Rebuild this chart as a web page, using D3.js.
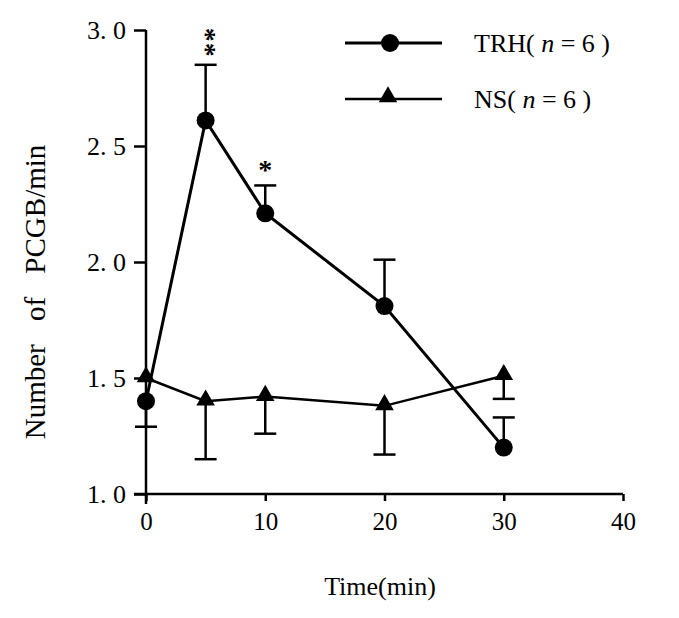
<!DOCTYPE html>
<html><head><meta charset="utf-8">
<script src="https://cdn.jsdelivr.net/npm/d3@7"></script>
<style>body{margin:0;background:#fff}svg{display:block}svg text{font-family:"Liberation Serif",serif !important}</style>
</head><body>
<svg id="c" width="679" height="618"></svg>
<script>
const times = [0, 5, 10, 20, 30];
const trhMean = [1.40, 2.61, 2.21, 1.81, 1.20];
const trhErrLow = [1.29, null, null, null, null];
const trhErrHigh = [null, 2.85, 2.33, 2.01, 1.33];
const nsMean = [1.50, 1.40, 1.42, 1.38, 1.51];
const nsErrLow = [null, 1.15, 1.26, 1.17, 1.41];
const sigLabels = [null, "**", "*", null, null];
const xTicks = [0, 10, 20, 30, 40];
const yTicks = [1.0, 1.5, 2.0, 2.5, 3.0];
const legendLabels = ["TRH", "NS"];

const svg = d3.select("#c");
const x = d3.scaleLinear().domain([0, 40]).range([146, 623]);
const y = d3.scaleLinear().domain([1, 3]).range([494, 30]);
const font = "Liberation Serif";

// axes
const yAxis = svg.append("g").attr("transform", `translate(${x(0)},0)`)
  .call(d3.axisLeft(y).tickValues(yTicks).tickSize(12).tickPadding(8)
    .tickFormat(d => d3.format(".1f")(d).replace(".", ". ")));
const xAxis = svg.append("g").attr("transform", `translate(0,${y(1)})`)
  .call(d3.axisBottom(x).tickValues(xTicks).tickSize(7).tickPadding(11).tickFormat(d3.format("d")));
yAxis.attr("font-family", font).attr("font-size", 26);
xAxis.attr("font-family", font).attr("font-size", 25);
[yAxis, xAxis].forEach(a => {
  a.select(".domain").attr("stroke", "#000").attr("stroke-width", 2.5);
  a.selectAll(".tick line").attr("stroke", "#000").attr("stroke-width", 2.5);
  a.selectAll("text").attr("fill", "#000");
});
xAxis.select(".domain").attr("d", `M${x(0) - 12},0H${x(40)}`);
yAxis.select(".domain").attr("d", `M0,${y(3)}V${y(1) + 10}`);

// axis titles
svg.append("text").attr("x", 380).attr("y", 595).attr("text-anchor", "middle")
  .attr("font-family", font).attr("font-size", 26).text("Time(min)");
svg.append("text").attr("transform", "translate(45,292) rotate(-90)").attr("text-anchor", "middle")
  .attr("font-family", font).attr("font-size", 29).attr("word-spacing", "16px")
  .text("Number of PCGB/min");

const g = svg.append("g");
const capW = 11;
function errBars(means, bounds) {
  times.forEach((t, i) => {
    if (bounds[i] == null) return;
    g.append("line").attr("x1", x(t)).attr("x2", x(t)).attr("y1", y(means[i])).attr("y2", y(bounds[i]))
      .attr("stroke", "#000").attr("stroke-width", 2.5);
    g.append("line").attr("x1", x(t) - capW).attr("x2", x(t) + capW).attr("y1", y(bounds[i])).attr("y2", y(bounds[i]))
      .attr("stroke", "#000").attr("stroke-width", 2.5);
  });
}
errBars(trhMean, trhErrHigh);
errBars(trhMean, trhErrLow);
errBars(nsMean, nsErrLow);

const line = d3.line().x((d, i) => x(times[i])).y(d => y(d));
g.append("path").datum(nsMean).attr("d", line).attr("fill", "none").attr("stroke", "#000").attr("stroke-width", 2.5);
g.append("path").datum(trhMean).attr("d", line).attr("fill", "none").attr("stroke", "#000").attr("stroke-width", 3);

const tri = d3.symbol().type(d3.symbolTriangle).size(150);
g.selectAll(".ns").data(nsMean).join("path")
  .attr("transform", (d, i) => `translate(${x(times[i])},${y(d) - 1})`).attr("d", tri).attr("fill", "#000");
g.selectAll(".trh").data(trhMean).join("circle")
  .attr("cx", (d, i) => x(times[i])).attr("cy", d => y(d)).attr("r", 9).attr("fill", "#000");

// significance stars (stacked vertically in one text)
times.forEach((t, i) => {
  if (!sigLabels[i]) return;
  const top = trhErrHigh[i];
  const n = sigLabels[i].length;
  if (n === 1) {
    svg.append("text").attr("x", x(t)).attr("y", y(top) - 6)
      .attr("text-anchor", "middle").attr("font-family", font).attr("font-size", 28).attr("font-weight", "bold")
      .text(sigLabels[i]);
  } else {
    svg.append("text").attr("x", x(t) + 1).attr("y", y(top) - 37)
      .attr("writing-mode", "tb").style("writing-mode", "vertical-rl").attr("letter-spacing", 1)
      .attr("font-family", font).attr("font-size", 28).attr("font-weight", "bold")
      .text(sigLabels[i]);
  }
});

// legend
const leg = [{y: 43, sym: "circle"}, {y: 99, sym: "tri"}];
leg.forEach((L, i) => {
  svg.append("line").attr("x1", 345).attr("x2", 442).attr("y1", L.y).attr("y2", L.y)
    .attr("stroke", "#000").attr("stroke-width", i === 0 ? 3 : 2.5);
  if (L.sym === "circle") svg.append("circle").attr("cx", 390).attr("cy", L.y).attr("r", 9).attr("fill", "#000");
  else svg.append("path").attr("transform", `translate(388,${L.y - 2})`).attr("d", tri).attr("fill", "#000");
  const t = svg.append("text").attr("x", 474).attr("y", L.y + 9).attr("font-family", font).attr("font-size", 26);
  t.append("tspan").text(legendLabels[i] + "( ");
  t.append("tspan").attr("font-style", "italic").text("n");
  t.append("tspan").text(" = 6 )");
});
</script>
</body></html>
